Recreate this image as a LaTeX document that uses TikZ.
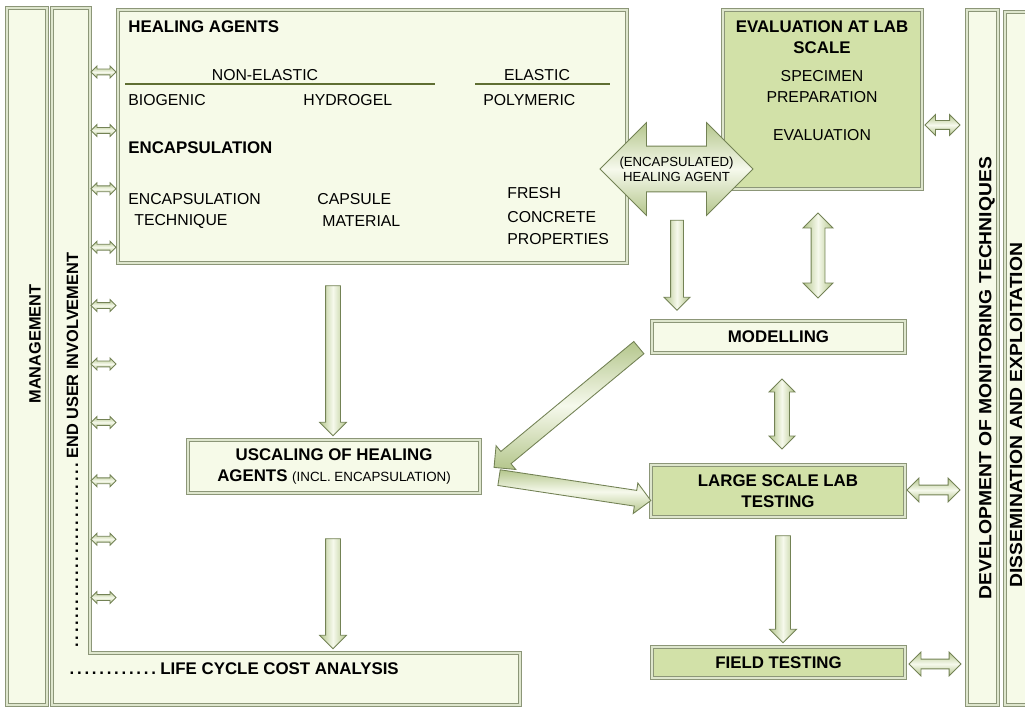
\documentclass[tikz,border=0pt]{standalone}
\usepackage{fontspec}
\setmainfont{Liberation Sans}
\usetikzlibrary{shapes.arrows,positioning}

\definecolor{palefill}{RGB}{246,250,232}
\definecolor{greenfill}{RGB}{210,225,168}
\definecolor{boxedge}{RGB}{140,150,120}
\definecolor{boxrim}{RGB}{222,230,205}
\definecolor{arrowedge}{RGB}{115,130,85}
\definecolor{arrowside}{RGB}{180,198,140}
\definecolor{arrowmid}{RGB}{246,249,236}
\definecolor{ruleline}{RGB}{95,110,50}

\newcommand\hdfont{\fontsize{9.6}{12}\selectfont\bfseries}
\newcommand\txtfont{\fontsize{9}{12}\selectfont}
\newcommand\notefont{\fontsize{7.6}{9}\selectfont\mdseries}
\newcommand\arrowfont{\fontsize{7.5}{8.6}\selectfont}
\newcommand\sidefont{\fontsize{9.3}{11}\selectfont\bfseries}
\newcommand\widefont{\fontsize{10}{12}\selectfont\bfseries}

\tikzset{
  panel/.style={draw=boxedge, line width=0.6pt, double=boxrim, double distance=1.2pt, fill=palefill, inner sep=0pt},
  greenpanel/.style={panel, fill=greenfill},
  bartext/.style={rotate=90, font=\sidefont, inner sep=0pt},
  widetext/.style={bartext, font=\widefont, xscale=1.1},
  label/.style={anchor=west, inner sep=0pt},
  arrowfill/.style={draw=arrowedge, line width=0.5pt, top color=arrowside, bottom color=arrowside, middle color=arrowmid, shading angle=#1},
  onearrow/.style={single arrow, arrowfill=#1, shape border rotate=#1},
  twoarrow/.style={double arrow, arrowfill=#1, shape border rotate=#1},
  slantarrow/.style={single arrow, arrowfill=0, rotate=#1, inner sep=0.15cm, minimum width=0.6cm, single arrow head extend=0.15cm},
  thinarrow/.style={inner sep=0.14cm, single arrow head extend=0.12cm},
  sidearrow/.style={twoarrow=0, minimum height=0.5cm, inner sep=0.05cm, double arrow head extend=0.06cm}
}

\begin{document}
\begin{tikzpicture}[x=0.02cm, y=-0.02cm, font=\txtfont]
        \useasboundingbox (0,0) rectangle (1025,709);
        \clip (0,0) rectangle (1025,709);

        % Management bar
        \node[panel, minimum width=0.8cm, minimum height=13.94cm] (mgmtbar) at (27,356.5) {};
        \node[bartext] (mgmt) at (35,344) {MANAGEMENT};

        % End user bar and life cycle cost analysis (one L-shaped panel)
        \path[panel] (52,8) -- (90,8) -- (90,653) -- (520,653) -- (520,705) -- (52,705) -- cycle;
        \node[bartext, anchor=base west] (enduser) at (78,652) {\hbox to 3.86cm{\dotfill}END USER INVOLVEMENT};
        \node[anchor=base west, inner sep=0pt, font=\hdfont] (lcca) at (65,674) {\hbox to 1.9cm{\dotfill}LIFE CYCLE COST ANALYSIS};

        % Right bars
        \node[panel, minimum width=0.62cm, minimum height=13.9cm] (devbar) at (982.5,357.5) {};
        \node[widetext] (devel) at (987,378) {DEVELOPMENT OF MONITORING TECHNIQUES};
        \node[panel, minimum width=0.8cm, minimum height=13.86cm] (disbar) at (1025,358.5) {};
        \node[widetext] (dissem) at (1016,415) {DISSEMINATION AND EXPLOITATION};

        % Healing agents panel
        \node[panel, minimum width=10.18cm, minimum height=5.06cm] (healing) at (372.5,136.5) {};
        \node[label, font=\hdfont] (agents) at (128,27) {HEALING AGENTS};
        \node[inner sep=0pt] (nonel) at (265,75) {NON-ELASTIC};
        \node[inner sep=0pt] (elastic) at (537,75) {ELASTIC};
        \draw[ruleline, line width=0.6pt] (125,84) -- (435,84);
        \draw[ruleline, line width=0.6pt] (475,84) -- (610,84);
        \node[label] (biogenic) at (128,100) {BIOGENIC};
        \node[label] (hydrogel) at (303,100) {HYDROGEL};
        \node[label] (polymeric) at (483,100) {POLYMERIC};
        \node[label, font=\hdfont] (encaps) at (128,148) {ENCAPSULATION};
        \node[label] (technique1) at (128,199) {ENCAPSULATION};
        \node[label] (technique2) at (134,221) {TECHNIQUE};
        \node[label] (capsule1) at (317,199) {CAPSULE};
        \node[label] (capsule2) at (322,221) {MATERIAL};
        \node[label] (fresh1) at (507,193) {FRESH};
        \node[label] (fresh2) at (507,217) {CONCRETE};
        \node[label] (fresh3) at (507,239) {PROPERTIES};

        % Evaluation at lab scale
        \node[greenpanel, minimum width=3.98cm, minimum height=3.58cm] (eval) at (822.5,99.5) {};
        \node[font=\hdfont, align=center, inner sep=0pt] (evaltitle) at (822,37.5) {EVALUATION AT LAB\\SCALE};
        \node[align=center, inner sep=0pt] (specimen) at (822,86.5) {SPECIMEN\\PREPARATION};
        \node[inner sep=0pt] (evaltxt) at (822,135) {EVALUATION};

        % Other boxes
        \node[panel, minimum width=5.06cm, minimum height=0.64cm, font=\hdfont] (model) at (778.5,337) {MODELLING};
        \node[panel, minimum width=5.84cm, minimum height=1.06cm, font=\hdfont, align=center] (upscale) at (334,466.5) {USCALING OF HEALING\\AGENTS {\notefont (INCL. ENCAPSULATION)}};
        \node[greenpanel, minimum width=5.08cm, minimum height=1.04cm, font=\hdfont, align=center] (large) at (778,491) {LARGE SCALE LAB\\TESTING};
        \node[greenpanel, minimum width=5.06cm, minimum height=0.62cm, font=\hdfont] (field) at (778.5,662.5) {FIELD TESTING};

        % Healing agent exchange
        \node[twoarrow=0, minimum height=3.06cm, inner sep=0.45cm, double arrow head extend=0.47cm] (agent) at (676.5,169) {};
        \node[align=center, inner sep=0pt, font=\arrowfont] (agenttxt) at (agent.center) {(ENCAPSULATED)\\HEALING AGENT};

        % Flow arrows
        \node[onearrow=270, thinarrow, minimum height=3cm] (healdown) at (333,357) {};
        \node[onearrow=270, thinarrow, minimum height=2.2cm] (updown) at (333,590) {};
        \node[onearrow=270, minimum height=1.8cm, inner sep=0.12cm, single arrow head extend=0.13cm] (agentdown) at (677,262) {};
        \node[onearrow=270, thinarrow, minimum height=2.14cm] (largedown) at (783,585.5) {};
        \node[slantarrow=219.6, minimum height=3.76cm] (modtoup) at (569.5,405) {};
        \node[slantarrow=-8.6, minimum height=3.07cm] (uptolarge) at (571,488.5) {};
        \node[twoarrow=90, minimum height=1.7cm, inner sep=0.13cm, double arrow head extend=0.16cm] (evalmod) at (818,255.5) {};
        \node[twoarrow=90, minimum height=1.4cm, inner sep=0.14cm, double arrow head extend=0.11cm] (modlarge) at (782,414) {};

        % Side exchanges
        \foreach \i in {0,...,9}
            \node[sidearrow] (side\i) at (103.5,{72+58.4*\i}) {};
        \node[twoarrow=0, minimum height=0.7cm, inner sep=0.08cm, double arrow head extend=0.12cm] (evalside) at (942.5,125) {};
        \node[twoarrow=0, minimum height=1.06cm, inner sep=0.09cm, double arrow head extend=0.14cm] (largeside) at (933.5,490) {};
        \node[twoarrow=0, minimum height=1.04cm, inner sep=0.09cm, double arrow head extend=0.14cm] (fieldside) at (935,664) {};
\end{tikzpicture}
\end{document}
